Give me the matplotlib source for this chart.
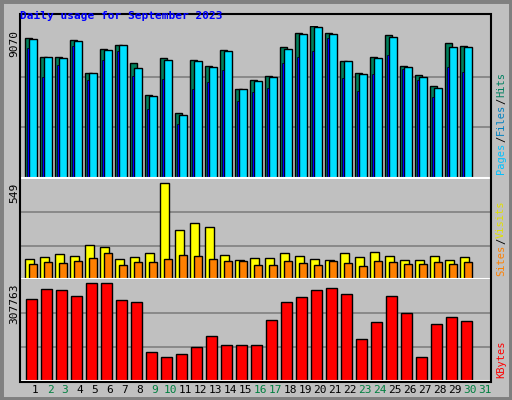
import matplotlib
matplotlib.use("Agg")
import matplotlib.pyplot as plt
from matplotlib.patches import Rectangle

days = list(range(1, 31))
hits = [8366, 7217, 7217, 8245, 6250, 7701, 7963, 6854, 4980, 7157, 3891, 7036, 6673, 7641, 5282,
        5826, 6068, 7822, 8669, 9070, 8669, 6975, 6250, 7217, 8508, 6673, 6129, 5463, 8064, 7883]
files = [8306, 7217, 7157, 8185, 6250, 7641, 7963, 6552, 4919, 7036, 3770, 6975, 6612, 7580, 5282,
         5766, 6008, 7701, 8608, 9010, 8608, 6975, 6189, 7157, 8427, 6612, 6008, 5342, 7822, 7822]
pages = [7762, 6008, 6733, 7883, 5826, 7036, 7580, 6068, 4133, 5887, 3226, 5282, 5705, 6431, 4617,
         5161, 5342, 6854, 7217, 7580, 8366, 5947, 5221, 6189, 7338, 6492, 5826, 4859, 6612, 6310]
visits = [115, 127, 145, 133, 192, 180, 115, 127, 151, 549, 281, 317, 299, 139, 109,
          121, 121, 151, 133, 115, 109, 151, 127, 157, 133, 109, 109, 133, 109, 127]
sites = [85, 97, 91, 103, 121, 151, 79, 97, 97, 115, 139, 133, 115, 103, 103,
         79, 79, 103, 91, 79, 103, 91, 73, 103, 97, 85, 85, 97, 85, 97]
kbytes = [257400, 287600, 284250, 267470, 307763, 307763, 254040, 247320, 89530, 76100,
          86170, 106310, 139890, 113030, 113030, 113030, 190250, 247320, 264110, 284250,
          290970, 274180, 133170, 183530, 267470, 213750, 76100, 180180, 200320, 186890]
day_labels = [str(d) for d in range(1, 32)]
weekend = [2, 3, 9, 10, 16, 17, 23, 24, 30, 31]

W, H = 512, 400
BG = "#c0c0c0"
fig = plt.figure(figsize=(W / 100, H / 100), dpi=100, facecolor=BG)
mono = "DejaVu Sans Mono"

def px_axes(top, bottom):
    return fig.add_axes([20 / W, 1 - bottom / H, 470 / W, (bottom - top) / H])

# outer border
fig.patches.append(Rectangle((0, 0), 1, 1, transform=fig.transFigure, fill=False,
                             edgecolor="#808080", lw=5))
# inset frame around plot area
fig.patches.append(Rectangle((20 / W, 1 - 382 / H), 471 / W, 368 / H, transform=fig.transFigure,
                             fill=False, edgecolor="black", lw=1.5))

panels = [(26, 178, 9070, 9070), (179, 279, 571, 549), (279, 381, 320000, 307763)]
axes = []
for top, bottom, ymax, lab in panels:
    ax = px_axes(top, bottom)
    ax.set_facecolor(BG)
    ax.set_xlim(0, 31.33)
    ax.set_ylim(0, ymax)
    for f in (1 / 3, 2 / 3):
        ax.axhline(ymax * f, color="#808080", lw=1.2, zorder=0)
    ax.set_xticks([])
    ax.set_yticks([])
    for s in ax.spines.values():
        s.set_visible(False)
    ax.spines["bottom"].set_visible(True)
    ax.spines["bottom"].set_color("white")
    ax.spines["bottom"].set_linewidth(1.5)
    fig.text(14 / W, 1 - (top + 4) / H, str(lab), rotation=90,
             ha="center", va="top", fontsize=8, family=mono)
    axes.append(ax)

a1, a2, a3 = axes
ek = dict(edgecolor="black", linewidth=1, align="edge")
a1.bar([d - 0.67 for d in days], hits, width=0.47, color="#00805c", **ek)
a1.bar([d - 0.4 for d in days], files, width=0.53, color="#00e0ff", **ek)
a1.bar([d - 0.55 for d in days], pages, width=0.12, color="#0000ff", edgecolor="black",
       linewidth=0.5, align="edge")
a2.bar([d - 0.67 for d in days], visits, width=0.6, color="#ffff00", **ek)
a2.bar([d - 0.4 for d in days], sites, width=0.53, color="#ff8000", **ek)
a3.bar([d - 0.6 for d in days], kbytes, width=0.73, color="#ff0000", **ek)

for i, lab in enumerate(day_labels):
    d = i + 1
    a3.text(d, -0.04, lab, transform=a3.get_xaxis_transform(), ha="center", va="top",
            fontsize=8, family=mono, color="#008040" if d in weekend else "black")

fig.text(20 / W, 1 - 16 / H, "Daily usage for September 2023", color="#0000ff",
         fontsize=8, fontweight="bold", family=mono, va="center")

fig.canvas.draw()
renderer = fig.canvas.get_renderer()

def right_label(parts, y_bottom_px):
    y = y_bottom_px
    for txt, col in parts:
        t = fig.text(501 / W, 1 - y / H, txt, rotation=90, color=col, fontsize=7.5,
                     family=mono, ha="center", va="bottom")
        y -= t.get_window_extent(renderer).height + 0.5

right_label([("Pages", "#00c0ff"), ("/", "black"), ("Files", "#0080c0"), ("/", "black"),
             ("Hits", "#008060")], 174)
right_label([("Sites", "#ff8000"), ("/", "black"), ("Visits", "#e0e000")], 276)
right_label([("KBytes", "#ff0000")], 378)

fig.savefig("out.png", dpi=100, facecolor=BG)
